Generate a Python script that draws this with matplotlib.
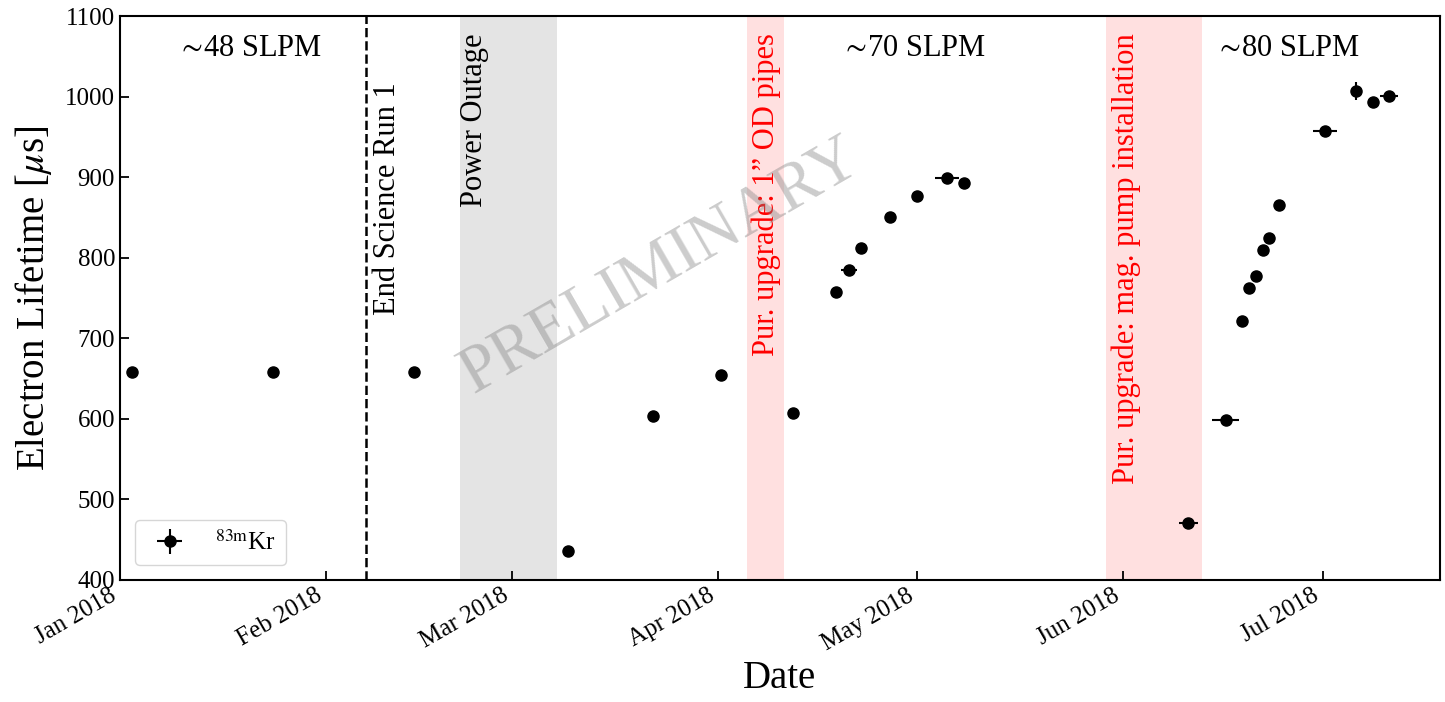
import numpy as np
import pandas as pd
import matplotlib
matplotlib.use("Agg")
import matplotlib.pyplot as plt
import matplotlib.dates as mdates

plt.rcParams['font.family'] = ['Liberation Serif', 'DejaVu Serif']
plt.rcParams['mathtext.fontset'] = 'stix'

# Kr83m electron lifetime measurements
dates = ["2018-01-02 19:00", "2018-01-24 02:00", "2018-02-14 07:00",
         "2018-03-09 10:00", "2018-03-22 07:00", "2018-04-01 10:00",
         "2018-04-12 07:00", "2018-04-18 17:00", "2018-04-20 17:00",
         "2018-04-22 14:00", "2018-04-26 22:00", "2018-04-30 22:00",
         "2018-05-05 10:00", "2018-05-08 02:00", "2018-06-10 19:00",
         "2018-06-16 10:00", "2018-06-18 22:00", "2018-06-19 22:00",
         "2018-06-21 00:00", "2018-06-22 00:00", "2018-06-23 00:00",
         "2018-06-24 10:00", "2018-07-01 10:00", "2018-07-06 00:00",
         "2018-07-08 14:00", "2018-07-11 00:00"]
lifetime = [658, 658, 658, 436, 603, 654, 607, 757, 785, 812, 851, 877, 899,
            893, 471, 599, 722, 762, 777, 809, 824, 865, 957, 1007, 994, 1001]
lifetime_err = [2, 2, 2, 2, 2, 2, 2, 2, 2, 2, 3, 3, 3, 3, 2, 2, 2, 2, 2, 2,
                2, 2, 2, 11, 4, 5]
date_err_days = [0.2, 0.2, 0.2, 0.2, 0.2, 0.2, 0.2, 0.2, 1.2, 0.2, 0.2, 0.2,
                 1.8, 0.6, 1.4, 2.0, 0.2, 0.2, 0.2, 0.2, 0.2, 0.5, 1.8, 0.3,
                 0.6, 1.4]

end_sr1 = "2018-02-07"
power_outage = ("2018-02-21 06:00", "2018-03-07 17:00")
upgrade_pipes = ("2018-04-05 10:00", "2018-04-11 00:00")
upgrade_pump = ("2018-05-29 10:00", "2018-06-12 19:00")

flow_labels = [r"${\sim}\!$48 SLPM", r"${\sim}\!$70 SLPM", r"${\sim}\!$80 SLPM"]
flow_dates = ["2018-01-20 12:00", "2018-04-30 12:00", "2018-06-25 16:00"]

x = pd.to_datetime(dates)
xerr = pd.to_timedelta(date_err_days, unit='D')
ts = pd.to_datetime

fig = plt.figure(figsize=(14.45, 7.02), dpi=100)
ax = fig.add_axes([0.083, 0.174, 0.9135, 0.803])

ax.axvspan(ts(power_outage[0]), ts(power_outage[1]), color='lightgray', alpha=0.6, lw=0)
ax.axvspan(ts(upgrade_pipes[0]), ts(upgrade_pipes[1]), color='red', alpha=0.12, lw=0)
ax.axvspan(ts(upgrade_pump[0]), ts(upgrade_pump[1]), color='red', alpha=0.12, lw=0)
ax.axvline(ts(end_sr1), color='k', ls='--', lw=1.8)

ax.errorbar(x, lifetime, yerr=lifetime_err, xerr=xerr, fmt='o', color='k',
            ms=8, elinewidth=1.5, capsize=0, label=r"$^{83\mathrm{m}}$Kr")

ax.text(ts(end_sr1) + pd.Timedelta(days=3.3), 729, "End Science Run 1", rotation=90,
        ha='center', va='bottom', fontsize=22)
ax.text(ts("2018-02-23 08:00"), 1079, "Power Outage", rotation=90,
        ha='center', va='top', fontsize=22)
ax.text(ts("2018-04-08 06:00"), 1079, "Pur. upgrade: 1\u201d OD pipes", rotation=90,
        ha='center', va='top', fontsize=22, color='red')
ax.text(ts("2018-06-01 12:00"), 1079, "Pur. upgrade: mag. pump installation",
        rotation=90, ha='center', va='top', fontsize=22, color='red')
for lab, d in zip(flow_labels, flow_dates):
    ax.text(ts(d), 1060, lab, ha='center', va='center', fontsize=22)

ax.text(0.409, 0.555, "PRELIMINARY", transform=ax.transAxes, rotation=30,
        ha='center', va='center', fontsize=48, color='gray', alpha=0.4)

ax.set_xlim(ts("2018-01-01"), ts("2018-07-18 16:00"))
ax.set_ylim(400, 1100)
ax.set_yticks(np.arange(400, 1101, 100))
ax.xaxis.set_major_locator(mdates.MonthLocator())
ax.xaxis.set_major_formatter(mdates.DateFormatter('%b %Y'))
ax.tick_params(direction='in', length=6.5, width=1.3, labelsize=18)
for lab in ax.get_xticklabels():
    lab.set_rotation(30)
    lab.set_ha('right')
for s in ax.spines.values():
    s.set_linewidth(1.5)

ax.set_xlabel("Date", fontsize=28)
ax.set_ylabel(r"Electron Lifetime [$\mu$s]", fontsize=28, labelpad=8)
ax.legend(loc='lower left', fontsize=18, borderaxespad=0.6)

fig.savefig("out.png", dpi=100)
